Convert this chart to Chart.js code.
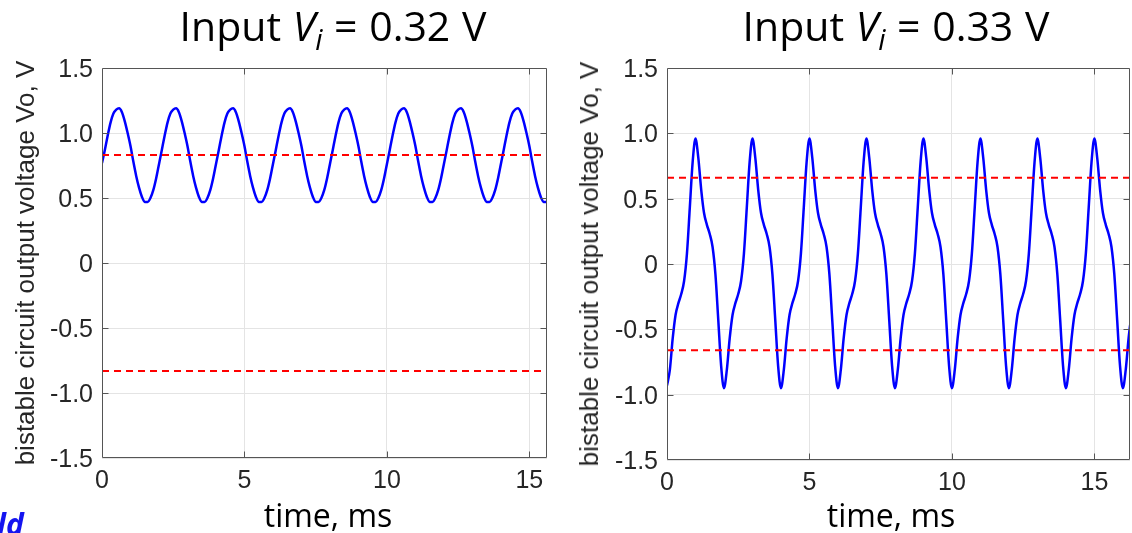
<!DOCTYPE html>
<html>
<head>
<meta charset="utf-8">
<script src="https://cdn.jsdelivr.net/npm/chart.js@4.4.1/dist/chart.umd.min.js"></script>
<style>
  html, body { margin: 0; padding: 0; background: #fff; }
  #page { position: relative; width: 1132px; height: 533px; overflow: hidden; }
  canvas { position: absolute; top: 0; }
  .txt { position: absolute; white-space: nowrap; line-height: 1; color: #000; }
  .title { font-family: "Open Sans", sans-serif; font-size: 41px; text-align: center; width: 440px; word-spacing: 1px; }
  .title sub { font-size: 0.7em; vertical-align: -0.3em; line-height: 0; }
  .xlab { font-family: "Open Sans", sans-serif; font-size: 32px; text-align: center; width: 300px; }
  .ylab { font-family: "Liberation Sans", Arial, sans-serif; font-size: 26px; color: #262626;
          transform: translate(-50%, -50%) rotate(-90deg); }
  .frag { font-family: "Open Sans", sans-serif; font-size: 30px; font-weight: bold; font-style: italic; color: #1414f0; }
</style>
</head>
<body>
<div id="page">
  <canvas id="left" width="566" height="533" style="left:0;width:566px;height:533px"></canvas>
  <canvas id="right" width="566" height="533" style="left:566px;width:566px;height:533px"></canvas>

  <div class="txt title" style="left:113px;top:5px">Input <i>V<sub>i</sub></i> = 0.32 V</div>
  <div class="txt title" style="left:676px;top:5px">Input <i>V<sub>i</sub></i> = 0.33 V</div>
  <div class="txt xlab" style="left:178px;top:499px">time, ms</div>
  <div class="txt xlab" style="left:741px;top:499px">time, ms</div>
  <div class="txt ylab" style="left:25px;top:263px">bistable circuit output voltage Vo, V</div>
  <div class="txt ylab" style="left:589px;top:264px">bistable circuit output voltage Vo, V</div>
  <div class="txt frag" style="left:-3px;top:509px">ld</div>
</div>

<script>
// sample spacing of both traces, ms
const sampleStep = 0.1;

// Vi = 0.32 V : output voltage, one row = 2 ms
const leftVo = [
  0.77, 0.87, 0.98, 1.08, 1.15, 1.18, 1.19, 1.16, 1.09, 1.00, 0.90, 0.78, 0.67, 0.58, 0.51, 0.47, 0.47, 0.50, 0.56, 0.65,
  0.76, 0.87, 0.98, 1.08, 1.15, 1.18, 1.19, 1.16, 1.09, 1.00, 0.90, 0.78, 0.67, 0.58, 0.51, 0.47, 0.47, 0.50, 0.56, 0.65,
  0.76, 0.87, 0.98, 1.08, 1.15, 1.18, 1.19, 1.16, 1.09, 1.00, 0.90, 0.78, 0.67, 0.58, 0.51, 0.47, 0.47, 0.50, 0.56, 0.65,
  0.76, 0.87, 0.98, 1.08, 1.15, 1.18, 1.19, 1.16, 1.09, 1.00, 0.90, 0.78, 0.67, 0.58, 0.51, 0.47, 0.47, 0.50, 0.56, 0.65,
  0.76, 0.87, 0.98, 1.08, 1.15, 1.18, 1.19, 1.16, 1.09, 1.00, 0.90, 0.78, 0.67, 0.58, 0.51, 0.47, 0.47, 0.50, 0.56, 0.65,
  0.76, 0.87, 0.98, 1.08, 1.15, 1.18, 1.19, 1.16, 1.09, 1.00, 0.90, 0.78, 0.67, 0.58, 0.51, 0.47, 0.47, 0.50, 0.56, 0.65,
  0.76, 0.87, 0.98, 1.08, 1.15, 1.18, 1.19, 1.16, 1.09, 1.00, 0.90, 0.78, 0.67, 0.58, 0.51, 0.47, 0.47, 0.50, 0.56, 0.65,
  0.76, 0.87, 0.98, 1.08, 1.15, 1.18, 1.19, 1.16, 1.09, 1.00, 0.90, 0.78, 0.67, 0.58, 0.51, 0.47, 0.47, 0.50, 0.56, 0.65
];

// Vi = 0.33 V : output voltage, one row = 2 ms
const rightVo = [
  -0.93, -0.81, -0.57, -0.39, -0.30, -0.23, -0.13, 0.08, 0.43, 0.78, 0.96, 0.81, 0.57, 0.39, 0.30, 0.23, 0.13, -0.08, -0.43, -0.78,
  -0.95, -0.81, -0.57, -0.39, -0.30, -0.23, -0.13, 0.08, 0.43, 0.78, 0.96, 0.81, 0.57, 0.39, 0.30, 0.23, 0.13, -0.08, -0.43, -0.78,
  -0.95, -0.81, -0.57, -0.39, -0.30, -0.23, -0.13, 0.08, 0.43, 0.78, 0.96, 0.81, 0.57, 0.39, 0.30, 0.23, 0.13, -0.08, -0.43, -0.78,
  -0.95, -0.81, -0.57, -0.39, -0.30, -0.23, -0.13, 0.08, 0.43, 0.78, 0.96, 0.81, 0.57, 0.39, 0.30, 0.23, 0.13, -0.08, -0.43, -0.78,
  -0.95, -0.81, -0.57, -0.39, -0.30, -0.23, -0.13, 0.08, 0.43, 0.78, 0.96, 0.81, 0.57, 0.39, 0.30, 0.23, 0.13, -0.08, -0.43, -0.78,
  -0.95, -0.81, -0.57, -0.39, -0.30, -0.23, -0.13, 0.08, 0.43, 0.78, 0.96, 0.81, 0.57, 0.39, 0.30, 0.23, 0.13, -0.08, -0.43, -0.78,
  -0.95, -0.81, -0.57, -0.39, -0.30, -0.23, -0.13, 0.08, 0.43, 0.78, 0.96, 0.81, 0.57, 0.39, 0.30, 0.23, 0.13, -0.08, -0.43, -0.78,
  -0.95, -0.81, -0.57, -0.39, -0.30, -0.23, -0.13, 0.08, 0.43, 0.78, 0.96, 0.81, 0.57, 0.39, 0.30, 0.23, 0.13, -0.08, -0.43, -0.78,
  -0.95, -0.81, -0.57, -0.39
];

// threshold levels (red dashed)
const leftThresholds = [0.83, -0.83];
const rightThresholds = [0.66, -0.66];

// axes
const xTicks = [0, 5, 10, 15];
const yTicks = [-1.5, -1.0, -0.5, 0, 0.5, 1.0, 1.5];
const yMin = -1.5, yMax = 1.5;
const leftXMax = 15.62;
const rightXMax = 16.25;

const tickFont = { family: "'Liberation Sans', Arial, sans-serif", size: 25 };
const axisColor = "#262626";

// box round the axes with inward ticks, like matlab
const boxPlugin = {
  id: "box",
  afterDatasetsDraw(chart) {
    const { ctx, chartArea: a, scales } = chart;
    ctx.save();
    ctx.strokeStyle = "#555";
    ctx.lineWidth = 1;
    ctx.beginPath();
    const L = Math.round(a.left) + 0.5, R = Math.round(a.right) - 0.5;
    const T = Math.round(a.top) + 0.5, B = Math.round(a.bottom) - 0.5;
    ctx.rect(L, T, R - L, B - T);
    xTicks.forEach((v) => {
      const px = Math.round(scales.x.getPixelForValue(v)) + 0.5;
      if (px <= L + 1 || px >= R - 1) return;
      ctx.moveTo(px, B); ctx.lineTo(px, B - 6);
      ctx.moveTo(px, T); ctx.lineTo(px, T + 6);
    });
    yTicks.forEach((v) => {
      const py = Math.round(scales.y.getPixelForValue(v)) + 0.5;
      if (py <= T + 1 || py >= B - 1) return;
      ctx.moveTo(L, py); ctx.lineTo(L + 6, py);
      ctx.moveTo(R, py); ctx.lineTo(R - 6, py);
    });
    ctx.stroke();
    ctx.restore();
  },
};

function makeChart(id, values, thresholds, xMax, area) {
  const trace = values.map((v, i) => ({ x: Math.round(i * sampleStep * 100) / 100, y: v }));
  const datasets = thresholds.map((th) => ({
    data: [{ x: 0, y: th }, { x: xMax, y: th }],
    borderColor: "#ff0000",
    borderWidth: 2,
    borderDash: [7, 5],
    pointRadius: 0,
    order: 0,
  }));
  datasets.push({
    data: trace,
    borderColor: "#0000ff",
    borderWidth: 2.5,
    pointRadius: 0,
    cubicInterpolationMode: "monotone",
    order: 1,
  });

  new Chart(document.getElementById(id), {
    type: "line",
    data: { datasets },
    options: {
      responsive: false,
      animation: false,
      events: [],
      layout: { padding: { left: 0, top: area.top, right: area.padRight, bottom: 0 } },
      plugins: { legend: { display: false }, tooltip: { enabled: false } },
      scales: {
        x: {
          type: "linear",
          min: 0,
          max: xMax,
          afterBuildTicks: (s) => { s.ticks = xTicks.map((v) => ({ value: v })); },
          afterFit: (s) => { s.height = area.xHeight; },
          grid: { color: "#e4e4e4", drawTicks: false },
          border: { display: false },
          ticks: { font: tickFont, color: axisColor, padding: 8, maxRotation: 0, autoSkip: false,
                   callback: (v) => String(v) },
        },
        y: {
          type: "linear",
          min: yMin,
          max: yMax,
          afterBuildTicks: (s) => { s.ticks = yTicks.map((v) => ({ value: v })); },
          afterFit: (s) => { s.width = area.left; },
          grid: { color: "#e4e4e4", drawTicks: false },
          border: { display: false },
          ticks: { font: tickFont, color: axisColor, padding: 9, labelOffset: 2,
                   callback: (v) => (v === 0 ? "0" : v.toFixed(1)) },
        },
      },
    },
    plugins: [boxPlugin],
  });
}

makeChart("left", leftVo, leftThresholds, leftXMax, { left: 102, top: 68, padRight: 19, xHeight: 75 });
makeChart("right", rightVo, rightThresholds, rightXMax, { left: 101, top: 68, padRight: 2, xHeight: 73 });
</script>
</body>
</html>
